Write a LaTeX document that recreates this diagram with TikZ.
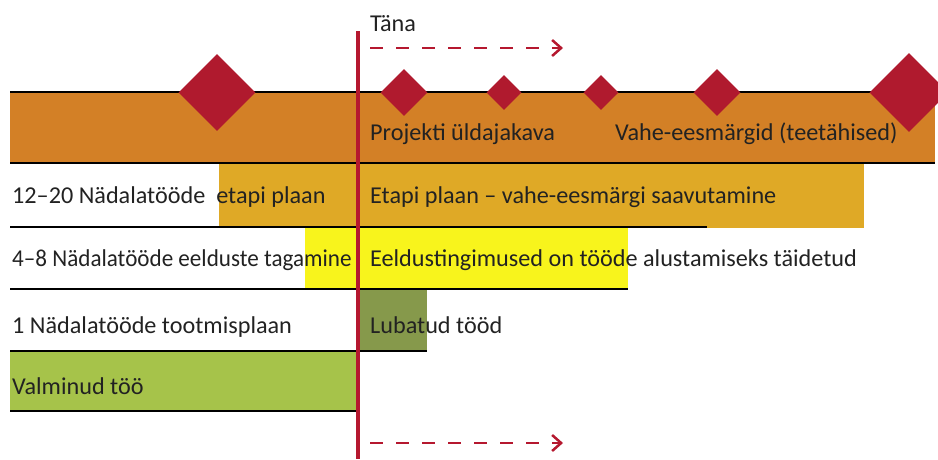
\documentclass[tikz,border=0pt]{standalone}
\usepackage{fontspec}
\usepackage{graphicx}
\setmainfont{Carlito}
\usetikzlibrary{arrows.meta,shapes.geometric}
\definecolor{bandorange}{HTML}{D38026}
\definecolor{milered}{HTML}{B01A2E}
\definecolor{todayred}{HTML}{B5182F}
\definecolor{stagegold}{HTML}{DFA926}
\definecolor{prereqyellow}{HTML}{F8F41C}
\definecolor{permolive}{HTML}{86994B}
\definecolor{donegreen}{HTML}{A6C34A}
\definecolor{txt}{HTML}{222222}
\begin{document}
\begin{tikzpicture}[x=1pt,y=-1pt,
  lbl/.style={anchor=base west, inner sep=0pt, font=\fontsize{24.2}{28}\selectfont, text=txt},
  rowline/.style={draw=black, line width=2pt},
  milestone/.style={diamond, fill=milered, inner sep=0pt, minimum size=#1},
  todayline/.style={draw=todayred, line width=3.5pt},
  futurearrow/.style={draw=todayred, line width=2.5pt, dash pattern=on 13pt off 13pt, -{Straight Barb[length=9pt,width=16pt,line width=2.5pt]}}
]
\useasboundingbox (0,0) rectangle (938,459);
\clip (0,0) rectangle (938,459);
% bars
\fill[bandorange] (10,92) rectangle (935,163);
\fill[stagegold] (219,163) rectangle (864,228);
\fill[prereqyellow] (305,227) rectangle (628,289);
\fill[permolive] (360,289) rectangle (427,351);
\fill[donegreen] (10,351) rectangle (357,411);
% row lines
\draw[rowline] (10,92) -- (935,92);
\draw[rowline] (10,163) -- (935,163);
\draw[rowline] (10,227) -- (707,227);
\draw[rowline] (10,289) -- (628,289);
\draw[rowline] (10,351) -- (427,351);
\draw[rowline] (10,411) -- (357,411);
% milestones
\node[milestone=77pt] (m1) at (217,92.5) {};
\node[milestone=47pt] (m2) at (404,92.5) {};
\node[milestone=35pt] (m3) at (504,92.5) {};
\node[milestone=35pt] (m4) at (601,92.5) {};
\node[milestone=47pt] (m5) at (717,92.5) {};
\node[milestone=79pt] (m6) at (909,92.5) {};
% today line
\coordinate (t0) at (358,31);
\coordinate (t1) at (358,459);
\draw[todayline] (t0) -- (t1);
\node[lbl] (tana) at (370,31) {Täna};
\coordinate (a0) at (370,48);
\coordinate (a1) at (563,48);
\coordinate (b0) at (370,443);
\coordinate (b1) at (563,443);
\draw[futurearrow] (a0) -- (a1);
\draw[futurearrow] (b0) -- (b1);
% texts
\node[lbl] (proj) at (370,140) {Projekti üldajakava};
\node[lbl] (vahe) at (615,140) {Vahe-eesmärgid (teetähised)};
\node[lbl] (r2l) at (12,203) {12–20 Nädalatööde\ \ etapi plaan};
\node[lbl] (r2r) at (370,203) {Etapi plaan – vahe-eesmärgi saavutamine};
\node[lbl] (r3l) at (12,266) {\scalebox{0.955}[1]{4–8 Nädalatööde eelduste tagamine}};
\node[lbl] (r3r) at (370,266) {Eeldustingimused on tööde alustamiseks täidetud};
\node[lbl] (r4l) at (12,333) {1 Nädalatööde tootmisplaan};
\node[lbl] (r4r) at (370,333) {Lubatud tööd};
\node[lbl] (r5l) at (12,394) {Valminud töö};
\end{tikzpicture}
\end{document}
